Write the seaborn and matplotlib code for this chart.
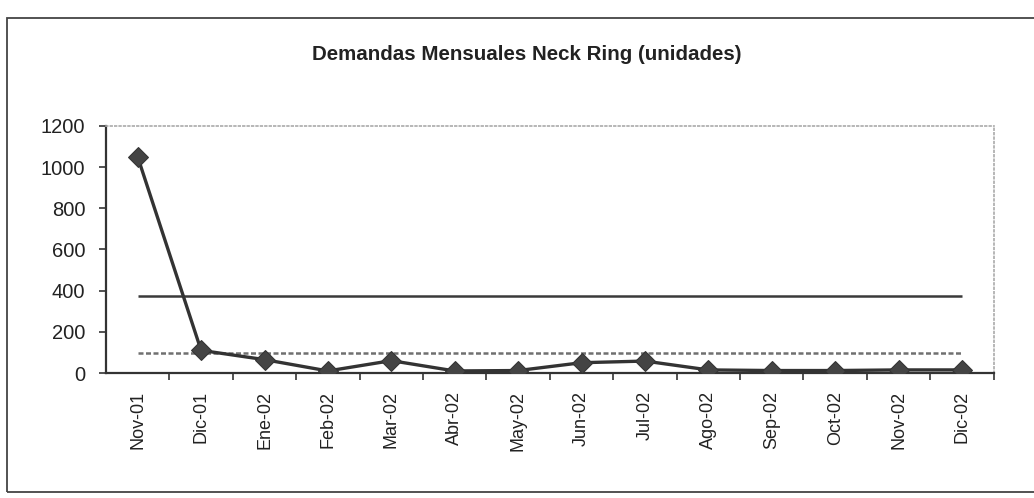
import matplotlib
matplotlib.use("Agg")
import matplotlib.pyplot as plt
import seaborn as sns
import pandas as pd
from matplotlib.patches import Rectangle

# ---- data ----
meses = ["Nov-01", "Dic-01", "Ene-02", "Feb-02", "Mar-02", "Abr-02", "May-02",
         "Jun-02", "Jul-02", "Ago-02", "Sep-02", "Oct-02", "Nov-02", "Dic-02"]
demanda = [1050, 110, 65, 10, 60, 10, 12, 50, 58, 15, 12, 12, 15, 15]
limite_superior = 372
linea_inferior = 97
y_ticks = [0, 200, 400, 600, 800, 1000, 1200]
titulo = "Demandas Mensuales Neck Ring (unidades)"

sns.set_style("white")
plt.rcParams["font.family"] = ["Liberation Sans", "DejaVu Sans"]

fig = plt.figure(figsize=(10.34, 4.98), dpi=100)
ax = fig.add_axes([0.1025, 0.251, 0.8585, 0.496])

df = pd.DataFrame({"mes": meses, "x": range(len(meses)), "demanda": demanda})

ax.hlines(limite_superior, 0, len(meses) - 1, color="#3a3a3a", lw=1.8, zorder=2)
ax.hlines(linea_inferior, 0, len(meses) - 1, color="#707070", lw=1.8,
          linestyles=(0, (2, 1)), zorder=2)

sns.lineplot(data=df, x="x", y="demanda", ax=ax, color="#333333", lw=2.4,
             marker="D", markersize=10, markerfacecolor="#444444",
             markeredgecolor="#333333", zorder=3)

ax.set_xlim(-0.5, len(meses) - 0.5)
ax.set_ylim(0, 1200)
ax.set_xticks(range(len(meses)))
ax.set_xticklabels(meses, rotation=90, fontsize=13, color="#222222")
ax.set_xticks([i - 0.5 for i in range(1, len(meses) + 1)], minor=True)
ax.tick_params(axis="x", which="major", length=0, pad=13)
ax.tick_params(axis="x", which="minor", length=5, width=1.2, color="#333333",
               direction="out", bottom=True)
ax.set_yticks(y_ticks)
ax.set_yticklabels([str(v) for v in y_ticks], fontsize=14.5, color="#222222")
ax.tick_params(axis="y", length=5, width=1.2, color="#333333", direction="out",
               left=True, pad=10)
ax.set_xlabel("")
ax.set_ylabel("")

for s in ["left", "bottom"]:
    ax.spines[s].set_color("#333333")
    ax.spines[s].set_linewidth(1.6)
for s in ["top", "right"]:
    ax.spines[s].set_color("#aaaaaa")
    ax.spines[s].set_linewidth(1.2)
    ax.spines[s].set_linestyle(":")

fig.text(0.509, 0.89, titulo, ha="center", va="center", fontsize=14.8,
         fontweight="bold", color="#222222")

fig.patches.append(Rectangle((7 / 1034, 0.012), 1.2, 0.952, transform=fig.transFigure,
                             fill=False, edgecolor="#444444", lw=1.3))

fig.savefig("out.png", dpi=100, facecolor="white")
